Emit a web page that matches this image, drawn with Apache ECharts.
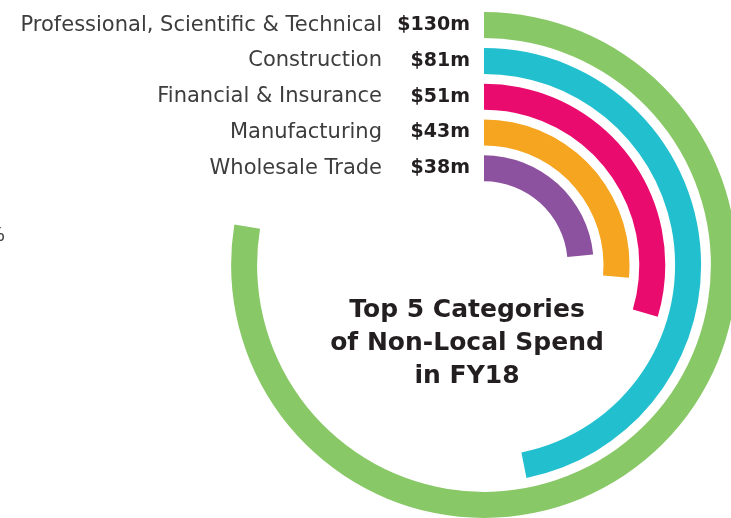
<!DOCTYPE html>
<html>
<head>
<meta charset="utf-8">
<script src="https://cdn.jsdelivr.net/npm/echarts@6/dist/echarts.min.js"></script>
<style>
html,body{margin:0;padding:0;background:#fff;}
#c{width:731px;height:518px;}
</style>
</head>
<body>
<div id="c"></div>
<script>
// Categories, inner ring to outer ring
const categories = ['Wholesale Trade', 'Manufacturing', 'Financial & Insurance', 'Construction', 'Professional, Scientific & Technical'];
// Spend labels shown next to each ring ($m)
const spendLabels = ['$38m', '$43m', '$51m', '$81m', '$130m'];
// Arc lengths, in $m (full circle = 167.5)
const arcSpend = [39.3, 44.2, 49.6, 78.5, 129.9];
const fullCircle = 167.5;
const colors = ['#8c52a0', '#f6a520', '#ea0b6e', '#22bfcf', '#88c866'];
const titleLines = ['Top 5 Categories', 'of Non-Local Spend', 'in FY18'];

const chart = echarts.init(document.getElementById('c'), null, {renderer: 'canvas'});
const FONT = '"DejaVu Sans", sans-serif';

chart.setOption({
  animation: false,
  polar: { center: [484, 265], radius: [78.8, 257.8] },
  angleAxis: {
    type: 'value', min: 0, max: fullCircle, startAngle: 90, clockwise: true,
    show: false
  },
  radiusAxis: {
    type: 'category',
    data: categories,
    axisLine: { show: false },
    axisTick: { show: false },
    splitLine: { show: false },
    axisLabel: {
      show: true,
      interval: 0,
      hideOverlap: false,
      margin: 14,
      formatter: function (v, i) {
        return '{n|' + v + '}{v|' + spendLabels[i] + '}';
      },
      rich: {
        n: { fontFamily: FONT, fontSize: 21, fontWeight: 'normal', color: '#3d3d3d' },
        v: { fontFamily: FONT, fontSize: 19, fontWeight: 'bold', color: '#231f20', width: 88, align: 'right' }
      }
    }
  },
  series: [{
    type: 'bar',
    coordinateSystem: 'polar',
    barWidth: 26,
    data: arcSpend.map((v, i) => ({ value: v, itemStyle: { color: colors[i] } }))
  }],
  graphic: [
    {
      type: 'text',
      style: {
        x: 467, y: 310,
        text: titleLines.join('\n'),
        align: 'center', verticalAlign: 'middle',
        fontFamily: FONT, fontSize: 25, fontWeight: 'bold',
        lineHeight: 33, fill: '#231f20'
      },
      position: [0, 33]
    },
    {
      type: 'text',
      style: {
        x: 5, y: 236, text: '%', align: 'right', verticalAlign: 'middle',
        fontFamily: FONT, fontSize: 19, fontWeight: 'normal', fill: '#3d3d3d'
      }
    }
  ]
});
</script>
</body>
</html>
